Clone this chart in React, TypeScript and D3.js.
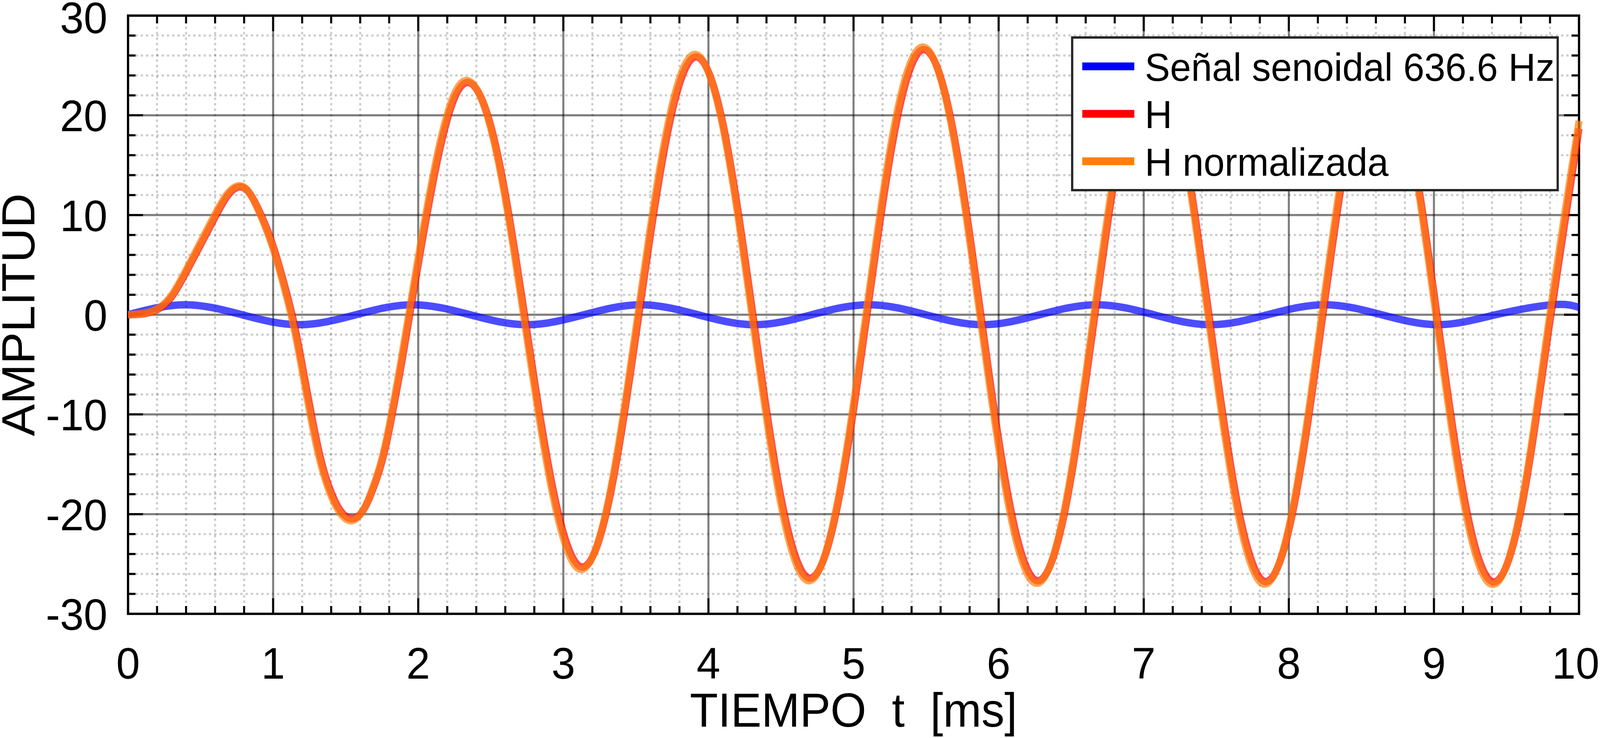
import React from 'react';
import * as d3 from 'd3';

// ---------- data ----------
const timeMs = [
  0, 0.1, 0.2, 0.3, 0.4, 0.5, 0.6, 0.68, 0.752, 0.83, 0.915, 1.0, 1.087, 1.15, 1.21,
  1.276, 1.336, 1.392, 1.457, 1.537, 1.612, 1.672, 1.735, 1.796, 1.865, 1.934, 2.132, 2.33,
  2.528, 2.725, 2.922, 3.12, 3.317, 3.513, 3.71, 3.906, 4.103, 4.299, 4.496, 4.692,
  4.888, 5.085, 5.281, 5.477, 5.674, 5.87, 6.067, 6.263, 6.46, 6.656, 6.853, 7.049,
  7.245, 7.442, 7.638, 7.834, 8.031, 8.227, 8.424, 8.62, 8.816, 9.013, 9.209, 9.405,
  9.602, 9.798, 10.0,
];

const hNormalizada = [
  0, 0.1, 0.58, 1.95, 4.5, 7.3, 10.1, 12.05, 12.9, 12.35, 9.9, 6.6, 2.1, -1.8, -6.45,
  -11.6, -15.4, -17.9, -19.8, -20.66, -19.8, -17.95, -15.2, -11.4, -5.95, 0, 16.11, 23.5,
  16.97, 0, -17.7, -25.54, -18.15, 0, 18.35, 26.1, 18.56, 0, -18.76, -26.68,
  -18.89, 0, 18.95, 26.85, 19.0, 0, -19.03, -26.94, -19.06, 0, 19.08, 27.0,
  19.09, 0, -19.1, -27.02, -19.11, 0, 19.12, 27.05, 19.12, 0, -19.12, -27.05,
  -19.12, 0, 19.45,
];

const hValues = [
  0, 0.08, 0.5, 1.78, 4.24, 7.0, 9.78, 11.81, 12.77, 12.34, 10.08, 6.9, 2.53, -1.23, -5.77,
  -10.9, -14.9, -17.5, -19.5, -20.45, -19.8, -18.1, -15.5, -11.85, -6.55, -0.7, 15.43, 23.27,
  17.34, 0.77, -16.96, -25.28, -18.54, -0.82, 17.58, 25.84, 18.96, 0.84, -17.98, -26.41,
  -19.3, -0.85, 18.16, 26.58, 19.41, 0.85, -18.24, -26.67, -19.47, -0.85, 18.29, 26.73,
  19.5, 0.85, -18.31, -26.75, -19.52, -0.86, 18.32, 26.78, 19.53, 0.86, -18.32, -26.78,
  -19.53, -0.86, 18.66,
];

const signalTime = [
  0, 0.393, 0.785, 1.178, 1.571, 1.963, 2.356, 2.749, 3.142, 3.534, 3.927, 4.32, 4.712,
  5.105, 5.498, 5.890, 6.283, 6.676, 7.069, 7.461, 7.854, 8.247, 8.639, 9.032, 9.425,
  9.817, 10.0,
];
const signalValues = [
  0, 1, 0, -1, 0, 1, 0, -1, 0, 1, 0, -1, 0, 1, 0, -1, 0, 1, 0, -1, 0, 1, 0, -1, 0, 1, 0.74,
];

const xTickValues = [0, 1, 2, 3, 4, 5, 6, 7, 8, 9, 10];
const yTickValues = [-30, -20, -10, 0, 10, 20, 30];
const legendLabels = ['Señal senoidal 636.6 Hz', 'H', 'H normalizada'];
const seriesColors = ['#0000ff', '#ff0000', '#ff7f0e'];

const xLabel = 'TIEMPO  t  [ms]';
const yLabel = 'AMPLITUD';

// ---------- layout ----------
const W = 4274;
const H = 1890;
const L = 342;
const R = 4218;
const T = 40;
const B = 1572;
const FONT = "'Liberation Sans', Arial, Helvetica, sans-serif";

export default function App() {
  const x = d3.scaleLinear().domain([0, 10]).range([L, R]);
  const y = d3.scaleLinear().domain([-30, 30]).range([B, T]);

  const xMinor = d3.range(51).map((i) => i / 5).filter((_, i) => i % 5 !== 0);
  const yMinor = d3.range(-15, 16).map((i) => i * 2).filter((v) => v % 10 !== 0);

  const mk = (ts: number[]) =>
    d3
      .line<number>()
      .x((_, i) => x(ts[i]))
      .y((d) => y(d))
      .curve(d3.curveNatural);

  const pathSignal = mk(signalTime)(signalValues) || '';
  const pathH = mk(timeMs)(hValues) || '';
  const pathHN = mk(timeMs)(hNormalizada) || '';

  const lw = 19;
  const gridW = 5.5;
  const tickW = 5.5;

  const legX = 2864;
  const legY = 96;
  const legW = 1297;
  const legH = 391;
  const rowY = [170, 291.5, 413];

  return (
    <>
      <style>{'html,body{margin:0;padding:0;overflow:hidden;background:#fff}'}</style>
      <svg
        viewBox={`0 0 ${W} ${H}`}
        preserveAspectRatio="none"
        style={{ position: 'fixed', left: 0, top: 0, width: '100vw', height: '100vh', display: 'block', background: '#fff' }}
      >
        <rect x={0} y={0} width={W} height={H} fill="#fff" />

        {/* minor grid */}
        <g stroke="#000" strokeOpacity={0.2} strokeWidth={gridW} strokeDasharray="6 8">
          {xMinor.map((v) => (
            <line key={'xm' + v} x1={x(v)} x2={x(v)} y1={B} y2={T} />
          ))}
          {yMinor.map((v) => (
            <line key={'ym' + v} x1={L} x2={R} y1={y(v)} y2={y(v)} strokeDashoffset={8} />
          ))}
        </g>
        {/* major grid */}
        <g stroke="#000" strokeOpacity={0.5} strokeWidth={gridW}>
          {xTickValues.slice(1, -1).map((v) => (
            <line key={'xg' + v} x1={x(v)} x2={x(v)} y1={B} y2={T} />
          ))}
          {yTickValues.slice(1, -1).map((v) => (
            <line key={'yg' + v} x1={L} x2={R} y1={y(v)} y2={y(v)} />
          ))}
        </g>

        {/* ticks */}
        <g stroke="#000" strokeWidth={tickW}>
          {xTickValues.map((v) => (
            <g key={'xt' + v}>
              <line x1={x(v)} x2={x(v)} y1={B} y2={B - 40} />
              <line x1={x(v)} x2={x(v)} y1={T} y2={T + 40} />
            </g>
          ))}
          {xMinor.map((v) => (
            <g key={'xmt' + v}>
              <line x1={x(v)} x2={x(v)} y1={B} y2={B - 20} />
              <line x1={x(v)} x2={x(v)} y1={T} y2={T + 20} />
            </g>
          ))}
          {yTickValues.map((v) => (
            <g key={'yt' + v}>
              <line x1={L} x2={L + 40} y1={y(v)} y2={y(v)} />
              <line x1={R} x2={R - 40} y1={y(v)} y2={y(v)} />
            </g>
          ))}
          {yMinor.map((v) => (
            <g key={'ymt' + v}>
              <line x1={L} x2={L + 20} y1={y(v)} y2={y(v)} />
              <line x1={R} x2={R - 20} y1={y(v)} y2={y(v)} />
            </g>
          ))}
        </g>
        <rect x={L} y={T} width={R - L} height={B - T} fill="none" stroke="#000" strokeWidth={6} />

        {/* data lines */}
        <g fill="none" strokeWidth={lw} strokeLinejoin="round" strokeLinecap="butt" strokeOpacity={0.7}>
          <path d={pathSignal} stroke={seriesColors[0]} />
          <path d={pathH} stroke={seriesColors[1]} />
          <path d={pathHN} stroke={seriesColors[2]} />
        </g>

        {/* tick labels */}
        <g fontFamily={FONT} fontSize={114} fill="#000">
          {xTickValues.map((v) => (
            <text key={'xl' + v} x={Math.min(x(v), W - 65)} y={1738} textAnchor="middle">
              {String(v)}
            </text>
          ))}
          {yTickValues.map((v) => (
            <text key={'yl' + v} x={287} y={Math.max(y(v) + 41, 85)} textAnchor="end">
              {String(v)}
            </text>
          ))}
        </g>

        {/* axis titles */}
        <text x={(L + R) / 2} y={1861} textAnchor="middle" fontFamily={FONT} fontSize={123} style={{ whiteSpace: 'pre' }}>
          {xLabel}
        </text>
        <text
          transform={`translate(92, ${(T + B) / 2}) rotate(-90)`}
          textAnchor="middle"
          fontFamily={FONT}
          fontSize={123}
        >
          {yLabel}
        </text>

        {/* legend */}
        <rect x={legX} y={legY} width={legW} height={legH} fill="#fff" stroke="#262626" strokeWidth={6} />
        {legendLabels.map((lab, i) => (
          <g key={'lg' + i}>
            <line x1={2891} x2={3030} y1={rowY[i]} y2={rowY[i]} stroke={seriesColors[i]} strokeWidth={20} />
            <text x={3058} y={rowY[i] + 37} fontFamily={FONT} fontSize={101} fill="#000">
              {lab}
            </text>
          </g>
        ))}
      </svg>
    </>
  );
}
